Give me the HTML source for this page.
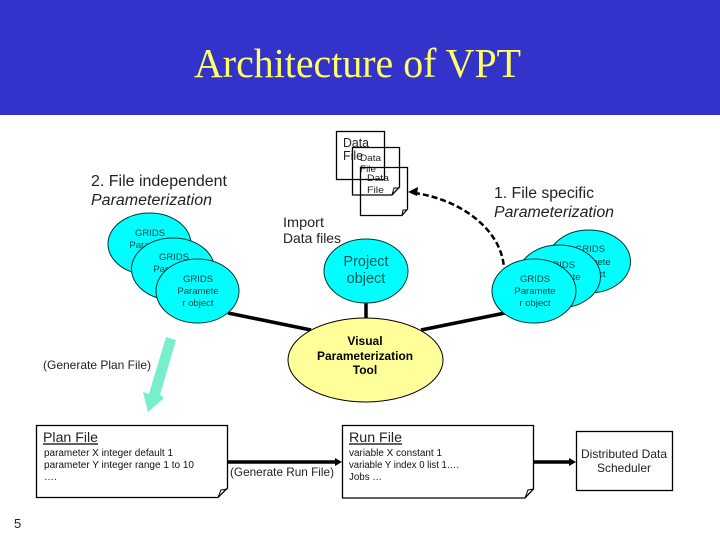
<!DOCTYPE html>
<html><head><meta charset="utf-8"><style>
html,body{margin:0;padding:0;background:#fff}
svg{display:block}
text{font-family:"Liberation Sans",sans-serif;fill:#222}
.c{fill:#00ffff;stroke:#003333;stroke-width:1}
.d{fill:#fff;stroke:#000;stroke-width:1.3}
.g{font-size:9.5px;fill:#004444;text-anchor:middle}
.s{font-size:10px;fill:#111}
.l{font-size:15.5px}
</style></head><body>
<svg width="720" height="540" viewBox="0 0 720 540" xmlns="http://www.w3.org/2000/svg">
<rect width="720" height="540" fill="#fff"/>
<rect width="720" height="115" fill="#3333cc"/>
<text x="194" y="77" textLength="327" lengthAdjust="spacingAndGlyphs" style="font-family:'Liberation Serif',serif;font-size:41px;fill:#ffff66">Architecture of VPT</text>

<!-- thick connectors -->
<g stroke="#000" stroke-width="3.5" fill="none">
<path d="M228 313L311 330"/><path d="M505 313L421 330"/><path d="M366 303V318"/>
<path d="M227 462H338"/><path d="M533 462H572"/>
</g>
<path d="M335 458L342 462L335 466Z"/><path d="M569 458L576 462L569 466Z"/>

<!-- dashed curve -->
<path d="M414 193C455 198 501 226 504 268" fill="none" stroke="#000" stroke-width="2.5" stroke-dasharray="6 3"/>
<path d="M408 192L418 187L417 196Z"/>

<!-- data files -->
<rect class="d" x="336.500" y="131.500" width="48" height="48"/>
<text x="343" y="147" lengthAdjust="spacingAndGlyphs" style="font-size:13px" textLength="26">Data</text>
<text x="343" y="160" lengthAdjust="spacingAndGlyphs" style="font-size:13px" textLength="20">File</text>
<path class="d" style="fill:none" d="M352.500 147.500H399.500V187L392 195H352.500Z"/>
<path d="M399.500 188H394L392 195" fill="none" stroke="#000"/>
<text x="360" y="161" lengthAdjust="spacingAndGlyphs" style="font-size:9.500px" textLength="21">Data</text>
<text x="360" y="172" lengthAdjust="spacingAndGlyphs" style="font-size:9.500px" textLength="16">File</text>
<path class="d" style="fill:none" d="M360.500 167.500H407.500V209L402 215.500H360.500Z"/>
<path d="M407.500 210H403L402 215.500" fill="none" stroke="#000"/>
<text x="367" y="181" lengthAdjust="spacingAndGlyphs" style="font-size:9.500px" textLength="22">Data</text>
<text x="367" y="193" lengthAdjust="spacingAndGlyphs" style="font-size:9.500px" textLength="17">File</text>

<!-- headings -->
<text x="91" y="186" class="l" lengthAdjust="spacingAndGlyphs" textLength="136">2. File independent</text>
<text x="91" y="205" class="l" font-style="italic" lengthAdjust="spacingAndGlyphs" textLength="121">Parameterization</text>
<text x="494" y="198" class="l" lengthAdjust="spacingAndGlyphs" textLength="100">1. File specific</text>
<text x="494" y="217" class="l" font-style="italic" lengthAdjust="spacingAndGlyphs" textLength="120">Parameterization</text>
<text x="283" y="227" lengthAdjust="spacingAndGlyphs" style="font-size:14px" textLength="41">Import</text>
<text x="283" y="243" lengthAdjust="spacingAndGlyphs" style="font-size:14px" textLength="58">Data files</text>

<!-- left ellipses -->
<ellipse class="c" cx="149.500" cy="244" rx="41.500" ry="31"/>
<text class="g" x="150" y="236">GRIDS</text><text class="g" x="150" y="248">Paramete</text>
<ellipse class="c" cx="173" cy="269" rx="41.500" ry="31"/>
<text class="g" x="174" y="260">GRIDS</text><text class="g" x="174" y="272">Paramete</text>
<ellipse class="c" cx="197.500" cy="291" rx="41.500" ry="32"/>
<text class="g" x="198" y="282">GRIDS</text><text class="g" x="198" y="294">Paramete</text><text class="g" x="198" y="306">r object</text>

<!-- right ellipses -->
<ellipse class="c" cx="589" cy="261.500" rx="41.500" ry="31.500"/>
<text class="g" x="590" y="252">GRIDS</text><text class="g" x="590" y="265">Paramete</text><text class="g" x="590" y="277">r object</text>
<ellipse class="c" cx="559" cy="276.500" rx="41.500" ry="31.500"/>
<text class="g" x="560" y="268">GRIDS</text><text class="g" x="560" y="280">Paramete</text>
<ellipse class="c" cx="534" cy="291" rx="42" ry="32"/>
<text class="g" x="535" y="282">GRIDS</text><text class="g" x="535" y="294">Paramete</text><text class="g" x="535" y="306">r object</text>

<!-- project -->
<ellipse class="c" cx="366" cy="271" rx="42" ry="32"/>
<text x="366" y="266" text-anchor="middle" style="font-size:14.500px;fill:#005555">Project</text>
<text x="366" y="283" text-anchor="middle" style="font-size:14.500px;fill:#005555">object</text>

<!-- VPT -->
<ellipse cx="365.500" cy="360" rx="77.500" ry="42" fill="#ffff99" stroke="#000"/>
<g text-anchor="middle" style="font-size:12px;font-weight:bold">
<text x="365" y="345" style="fill:#000">Visual</text>
<text x="365" y="360" style="fill:#000" lengthAdjust="spacingAndGlyphs" textLength="96">Parameterization</text>
<text x="365" y="374" style="fill:#000">Tool</text>
</g>

<!-- green arrow -->
<path d="M166 337L176 340L160 395L164 398L148 412L143 392L149 394Z" fill="#77eecc"/>
<text x="43" y="369" lengthAdjust="spacingAndGlyphs" style="font-size:12px" textLength="108">(Generate Plan File)</text>
<text x="230" y="476" lengthAdjust="spacingAndGlyphs" style="font-size:12px" textLength="104">(Generate Run File)</text>

<!-- plan -->
<path class="d" d="M36.500 425.500H227.500V488L218 497.500H36.500Z"/>
<path d="M227.500 489L221 490L218 497.500" fill="none" stroke="#000"/>
<text x="43" y="442" lengthAdjust="spacingAndGlyphs" style="font-size:13.500px" textLength="55">Plan File</text>
<path d="M43 444H98" stroke="#000" stroke-width="1.3"/>
<text class="s" x="44" y="456" lengthAdjust="spacingAndGlyphs" textLength="129">parameter X integer default 1</text>
<text class="s" x="44" y="468" lengthAdjust="spacingAndGlyphs" textLength="150">parameter Y integer range 1 to 10</text>
<text class="s" x="44" y="480">….</text>

<!-- run -->
<path class="d" d="M342.500 425.500H533.500V489L525 498H342.500Z"/>
<path d="M533.500 489L528 490L525 498" fill="none" stroke="#000"/>
<text x="349" y="442" lengthAdjust="spacingAndGlyphs" style="font-size:13.500px" textLength="53">Run File</text>
<path d="M349 444H402" stroke="#000" stroke-width="1.3"/>
<text class="s" x="349" y="456" lengthAdjust="spacingAndGlyphs" textLength="93">variable X constant 1</text>
<text class="s" x="349" y="468" lengthAdjust="spacingAndGlyphs" textLength="110">variable Y index 0 list 1….</text>
<text class="s" x="349" y="480" lengthAdjust="spacingAndGlyphs" textLength="33">Jobs …</text>

<!-- scheduler -->
<rect class="d" x="576.500" y="431.500" width="96" height="59"/>
<text x="624" y="458" text-anchor="middle" lengthAdjust="spacingAndGlyphs" style="font-size:12px" textLength="86">Distributed Data</text>
<text x="624" y="472" text-anchor="middle" lengthAdjust="spacingAndGlyphs" style="font-size:12px" textLength="54">Scheduler</text>

<text x="14" y="528" style="font-size:13px">5</text>
</svg>
</body></html>
